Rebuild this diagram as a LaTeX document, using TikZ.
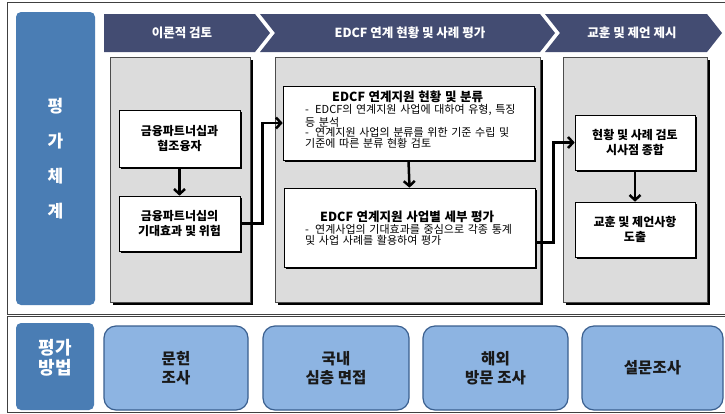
\documentclass[tikz,border=0pt]{standalone}
\usepackage{fontspec}
\setmainfont{Noto Sans CJK KR}
\usetikzlibrary{arrows.meta,shadows,calc}
\definecolor{navy}{HTML}{434C72}
\definecolor{steel}{HTML}{4A7DB4}
\definecolor{panelgray}{HTML}{DCDCDC}
\definecolor{lightblue}{HTML}{8DB4E2}
\definecolor{lbborder}{HTML}{3A5F8F}
\definecolor{framegray}{HTML}{404040}
\newcommand{\dashitem}[1]{\makebox[10pt][l]{-}#1}
\begin{document}
\begin{tikzpicture}[x=1pt,y=-1pt,
  panel/.style={draw=black!70, line width=0.5pt, fill=panelgray, inner sep=0pt,
    drop shadow={shadow xshift=2.5pt, shadow yshift=-2.5pt, fill=black, opacity=1}},
  wbox/.style={draw=black, line width=0.6pt, fill=white, inner sep=0pt,
    drop shadow={shadow xshift=2pt, shadow yshift=-2pt, fill=black, opacity=1}},
  btext/.style={font=\bfseries\fontsize{12}{14.5}\selectfont, align=center},
  conn/.style={line width=2.5pt, -{Straight Barb[length=5pt,width=11pt]}},
  chevtext/.style={text=white, font=\bfseries\fontsize{12.5}{13}\selectfont, inner sep=0pt},
  detail/.style={anchor=north west, inner sep=0pt, text width=232pt, align=left,
    font=\fontsize{11}{10.6}\selectfont},
  mbox/.style={draw=lbborder, line width=1.2pt, fill=lightblue, rounded corners=12pt,
    inner sep=0pt, font=\bfseries\fontsize{15.5}{19}\selectfont, align=center, text=black!90},
  sidebox/.style={fill=steel, rounded corners=5pt, inner sep=0pt, text=white}
]
\useasboundingbox (0,0) rectangle (725,413);
\fill[white] (0,0) rectangle (725,413);

% frames
\draw[framegray, line width=0.8pt] (7,2) rectangle (740,314);
\draw[framegray, line width=0.8pt] (7,316.5) rectangle (740,412);

% left blue panels
\node[sidebox, minimum width=79pt, minimum height=293pt, align=center,
  font=\bfseries\fontsize{17}{35}\selectfont] (sys) at (55.5,158.5) {평\\가\\체\\계};
\node[sidebox, minimum width=78pt, minimum height=87pt] (meth) at (55,366.5) {};
\node[text=white, align=center, inner sep=0pt, font=\bfseries\fontsize{18}{20}\selectfont] (metht) at (55,358) {평가\\방법};

% chevrons
\fill[navy] (104,14) -- (255,14) -- (270,33) -- (255,52) -- (104,52) -- cycle;
\fill[navy] (260,14) -- (540,14) -- (555,33) -- (540,52) -- (260,52) -- (275,33) -- cycle;
\fill[navy] (545,14) -- (707,14) -- (722,33) -- (707,52) -- (545,52) -- (560,33) -- cycle;
\node[chevtext] (h1) at (182,33) {이론적 검토};
\node[chevtext] (h2) at (410,33) {EDCF 연계 현황 및 사례 평가};
\node[chevtext] (h3) at (632,33) {교훈 및 제언 제시};

% gray panels
\node[panel, minimum width=140pt, minimum height=245pt] (p1) at (180,179.5) {};
\node[panel, minimum width=265pt, minimum height=245pt] (p2) at (407.5,179.5) {};
\node[panel, minimum width=144pt, minimum height=245pt] (p3) at (635,179.5) {};

% white boxes
\node[wbox, btext, minimum width=121pt, minimum height=57pt] (a1) at (179.5,138.5) {금융파트너십과\\협조융자};
\node[wbox, btext, minimum width=121pt, minimum height=55pt] (a2) at (179.5,223.5) {금융파트너십의\\기대효과 및 위험};
\node[wbox, minimum width=251pt, minimum height=74pt] (b1) at (408.5,123) {};
\node[wbox, minimum width=251pt, minimum height=79pt] (b2) at (409.5,227.5) {};
\node[wbox, btext, minimum width=120pt, minimum height=55pt] (c1) at (635,142.5) {현황 및 사례 검토\\시사점 종합};
\node[wbox, btext, minimum width=120pt, minimum height=55pt] (c2) at (635,229.5) {교훈 및 제언사항\\도출};

\node[detail] (b1t) at (305,91) {%
  {\bfseries\fontsize{12.5}{12.5}\selectfont\makebox[205pt][c]{EDCF 연계지원 현황 및 분류}}\\[1.5pt]
  \dashitem{EDCF의 연계지원 사업에 대하여 유형, 특징}\\
  등 분석\\
  \dashitem{연계지원 사업의 분류를 위한 기준 수립 및}\\
  기준에 따른 분류 현황 검토};
\node[detail] (b2t) at (305,211) {%
  {\bfseries\fontsize{12.5}{12.5}\selectfont\makebox[204pt][c]{EDCF 연계지원 사업별 세부 평가}}\\[1.5pt]
  \dashitem{연계사업의 기대효과를 중심으로 각종 통계}\\
  및 사업 사례를 활용하여 평가};

% connectors
\draw[conn] (a1.south) -- (a2.north);
\draw[conn] (a2.east) -- ++(22,0) |- (b1.west);
\draw[conn] (b1.south) -- (b2.north);
\draw[conn] ([yshift=-15pt]b2.east) -- ++(18,0) |- (c1.west);
\draw[conn] (c1.south) -- (c2.north);

% method boxes
\node[mbox, minimum width=144pt, minimum height=84pt] (m1) at (176,368) {문헌\\조사};
\node[mbox, minimum width=146pt, minimum height=84pt] (m2) at (336,368) {국내\\심층 면접};
\node[mbox, minimum width=145pt, minimum height=84pt] (m3) at (495.5,368) {해외\\방문 조사};
\node[mbox, minimum width=141pt, minimum height=84pt] (m4) at (652.5,368) {설문조사};
\end{tikzpicture}
\end{document}
